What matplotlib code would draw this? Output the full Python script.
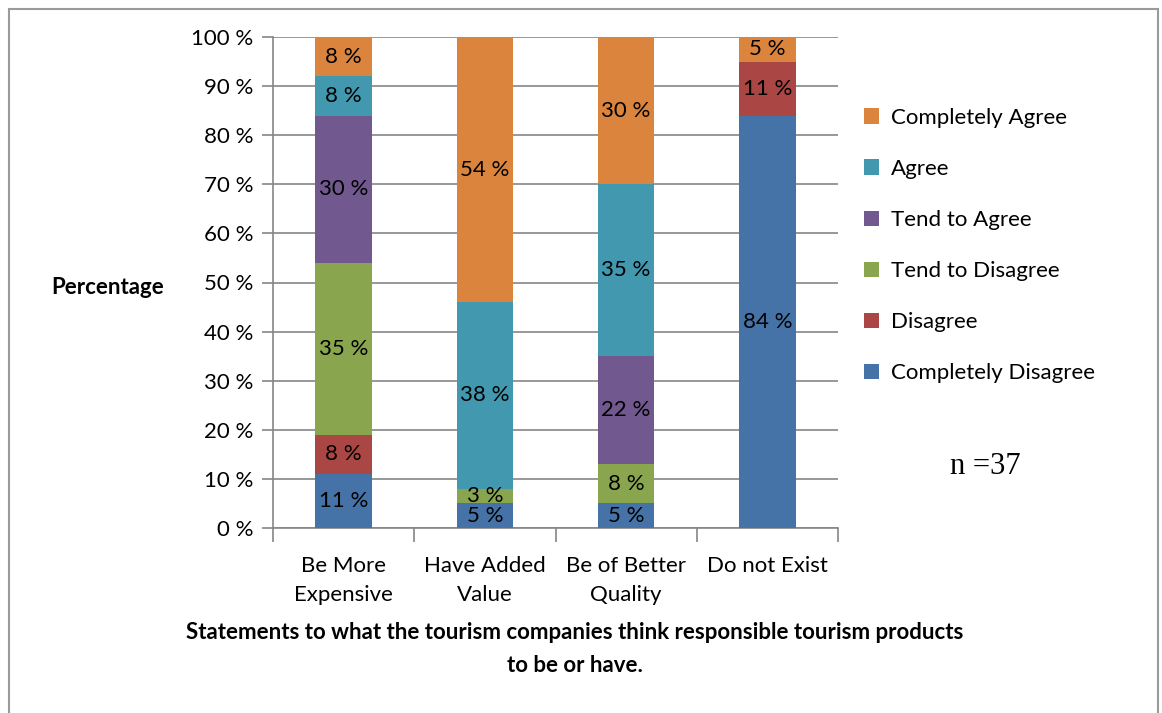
import matplotlib.pyplot as plt
import numpy as np

categories = ["Be More\nExpensive", "Have Added\nValue", "Be of Better\nQuality", "Do not Exist"]
series = ["Completely Disagree", "Disagree", "Tend to Disagree",
          "Tend to Agree", "Agree", "Completely Agree"]
completely_disagree = [11, 5, 5, 84]
disagree = [8, 0, 0, 11]
tend_disagree = [35, 3, 8, 0]
tend_agree = [30, 0, 22, 0]
agree = [8, 38, 35, 0]
completely_agree = [8, 54, 30, 5]
colors = ["#4572A7", "#AA4643", "#89A54E", "#71588F", "#4198AF", "#DB843D"]

values = [completely_disagree, disagree, tend_disagree, tend_agree, agree, completely_agree]

plt.rcParams['font.family'] = ['Lato', 'DejaVu Sans']
fs = 16

fig = plt.figure(figsize=(11.62, 7.13), dpi=100)
ax = fig.add_axes([273/1162, 1-528/713, (838-273)/1162, (528-37)/713])

x = np.arange(len(categories))
bottom = np.zeros(len(categories))
handles = []
for name, vals, c in zip(series, values, colors):
    vals = np.array(vals, dtype=float)
    b = ax.bar(x, vals, 0.4, bottom=bottom, color=c, label=name, zorder=3)
    handles.append(b)
    for xi, v, b0 in zip(x, vals, bottom):
        if v > 0:
            ax.text(xi, b0 + v/2, f"{int(v)} %", ha='center', va='center',
                    fontsize=fs, zorder=4)
    bottom += vals

ax.set_xlim(-0.5, len(categories) - 0.5)
ax.set_ylim(0, 100)
ax.set_yticks(np.arange(0, 101, 10))
ax.set_yticklabels([f"{v} %" for v in range(0, 101, 10)], fontsize=fs)
ax.yaxis.grid(True, color='#868686', lw=1.2, zorder=0)
ax.tick_params(axis='y', length=8, color='#868686', width=1.2, pad=6)

ax.set_xticks(x)
ax.set_xticklabels(categories, fontsize=fs, linespacing=1.6)
ax.tick_params(axis='x', length=0, pad=20)
ax.set_xticks(np.arange(-0.5, len(categories)), minor=True)
ax.tick_params(axis='x', which='minor', length=10, color='#868686', width=1.2)

for s in ['top', 'right']:
    ax.spines[s].set_visible(False)
for s in ['left', 'bottom']:
    ax.spines[s].set_color('#868686')
    ax.spines[s].set_linewidth(1.2)

ax.set_ylabel("Percentage", rotation=0, fontsize=fs, fontweight='bold',
              ha='center', va='center')
ax.yaxis.set_label_coords((108-273)/565, 0.5 - (287-282.5)/491)

fig.text(575/1162, 1-649/713,
         "Statements to what the tourism companies think responsible tourism products\nto be or have.",
         ha='center', va='center', fontsize=fs, fontweight='bold', linespacing=1.7)

fig.legend(handles[::-1], series[::-1], loc='upper left',
           bbox_to_anchor=(855/1162, 1-99/713), frameon=False, fontsize=fs,
           handlelength=0.7, handleheight=0.7, handletextpad=0.5, labelspacing=1.4,
           borderaxespad=0)

fig.text(985/1162, 1-467/713, "n =37", ha='center', va='center',
         fontsize=22, family='Liberation Serif')

# outer frame
fig.patches.append(plt.Rectangle((9/1162, -0.01), 1149/1162, 1 - 9/713 + 0.01,
                                 transform=fig.transFigure, fill=False,
                                 edgecolor='#9a9a9a', lw=1.5))

fig.savefig("out.png", dpi=100)
